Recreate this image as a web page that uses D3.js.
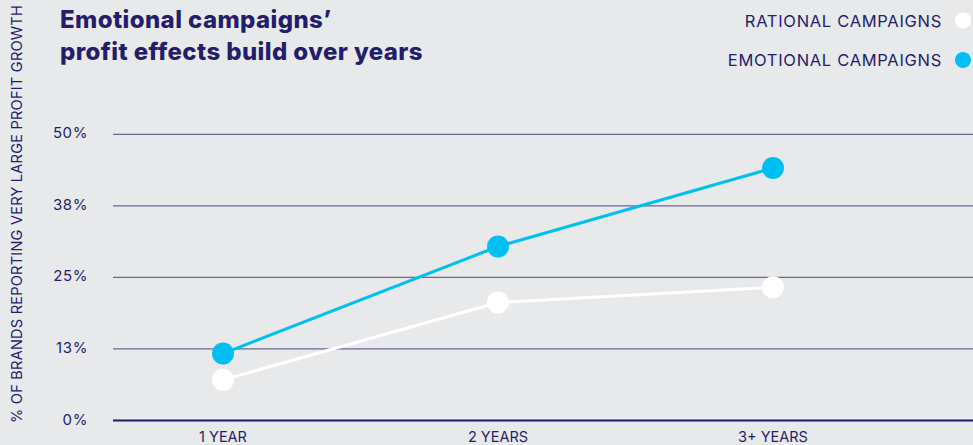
<!DOCTYPE html>
<html>
<head>
<meta charset="utf-8">
<script src="https://cdn.jsdelivr.net/npm/d3@7"></script>
<style>
  html, body { margin: 0; padding: 0; background: #e8e9eb; }
  svg { display: block; font-family: Inter, "Noto Sans", sans-serif; }
</style>
</head>
<body>
<script>
// data
var years = ["1 YEAR", "2 YEARS", "3+ YEARS"];
var rational = [7.1, 20.6, 23.3];
var emotional = [11.7, 30.4, 44.1];
var yTicks = [0, 12.5, 25, 37.5, 50];
var seriesNames = ["RATIONAL CAMPAIGNS", "EMOTIONAL CAMPAIGNS"];
var seriesColors = ["#ffffff", "#00bff3"];

var W = 973, H = 445;
var navy = "#241d6a";

var svg = d3.select("body").append("svg")
  .attr("width", W)
  .attr("height", H);

svg.append("rect").attr("width", W).attr("height", H).attr("fill", "#e8e9eb");

var plotLeft = 113, plotRight = 973;
var y = d3.scaleLinear().domain([0, 50]).range([420.5, 134.3]);
var x = d3.scalePoint().domain(years).range([223, 773]);

// gridlines
svg.selectAll(".grid")
  .data(yTicks.filter(function(d) { return d > 0; }))
  .enter().append("line")
  .attr("x1", plotLeft).attr("x2", plotRight)
  .attr("y1", function(d) { return y(d); })
  .attr("y2", function(d) { return y(d); })
  .attr("stroke", "#6a6699")
  .attr("stroke-width", 1.2);

// baseline
svg.append("line")
  .attr("x1", plotLeft).attr("x2", plotRight)
  .attr("y1", y(0)).attr("y2", y(0))
  .attr("stroke", "#1f1966")
  .attr("stroke-width", 2);

// y tick labels
svg.selectAll(".ylab")
  .data(yTicks)
  .enter().append("text")
  .attr("x", 88)
  .attr("y", function(d) { return y(d) + 4; })
  .attr("text-anchor", "end")
  .attr("fill", navy)
  .attr("font-size", 15)
  .attr("letter-spacing", 0.6)
  .text(function(d) { return Math.round(d) + "%"; });

// x labels
svg.selectAll(".xlab")
  .data(years)
  .enter().append("text")
  .attr("x", function(d) { return x(d); })
  .attr("y", 442)
  .attr("text-anchor", "middle")
  .attr("fill", navy)
  .attr("font-size", 14.5)
  .text(function(d) { return d; });

// y axis title
svg.append("text")
  .attr("transform", "translate(22,214) rotate(-90)")
  .attr("text-anchor", "middle")
  .attr("fill", navy)
  .attr("font-size", 14.5)
  .attr("letter-spacing", 0.25)
  .text("% OF BRANDS REPORTING VERY LARGE PROFIT GROWTH");

// title
var title = svg.append("text")
  .attr("x", 60)
  .attr("fill", navy)
  .attr("font-size", 24)
  .attr("font-weight", 800)
  .attr("letter-spacing", 0.4);
title.append("tspan").attr("x", 60).attr("y", 28).text("Emotional campaigns’");
title.append("tspan").attr("x", 60).attr("y", 60).text("profit effects build over years");

// lines
var line = d3.line()
  .x(function(d, i) { return x(years[i]); })
  .y(function(d) { return y(d); });

var series = [rational, emotional];
series.forEach(function(vals, k) {
  svg.append("path")
    .datum(vals)
    .attr("d", line)
    .attr("fill", "none")
    .attr("stroke", seriesColors[k])
    .attr("stroke-width", 3);
  svg.selectAll(".pt" + k)
    .data(vals)
    .enter().append("circle")
    .attr("cx", function(d, i) { return x(years[i]); })
    .attr("cy", function(d) { return y(d); })
    .attr("r", 11)
    .attr("fill", seriesColors[k]);
});

// legend
var legend = svg.selectAll(".leg")
  .data(seriesNames)
  .enter().append("g")
  .attr("transform", function(d, i) { return "translate(0," + (20.5 + i * 39.5) + ")"; });
legend.append("text")
  .attr("x", 942)
  .attr("y", 6)
  .attr("text-anchor", "end")
  .attr("fill", navy)
  .attr("font-size", 16.5)
  .attr("letter-spacing", 0.7)
  .text(function(d) { return d; });
legend.append("circle")
  .attr("cx", 963)
  .attr("cy", 0)
  .attr("r", 8)
  .attr("fill", function(d, i) { return seriesColors[i]; });
</script>
</body>
</html>
